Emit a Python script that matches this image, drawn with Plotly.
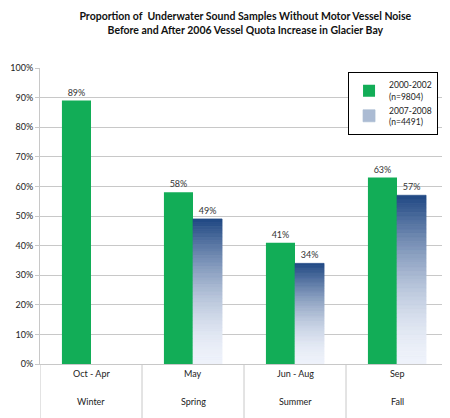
import plotly.graph_objects as go

seasons = ["Winter", "Spring", "Summer", "Fall"]
months = ["Oct - Apr", "May", "Jun - Aug", "Sep"]
before = [89, 58, 41, 63]          # 2000-2002 (n=9804)
after = [None, 49, 34, 57]         # 2007-2008 (n=4491)
y_ticks = [0, 10, 20, 30, 40, 50, 60, 70, 80, 90, 100]

font = "Lato, Liberation Sans, sans-serif"
grid = "#c8c8c8"

# gradient colours, bottom (light) -> top (dark navy)
c_low = (238, 242, 250)
c_high = (30, 70, 130)
n_slices = 40


def mix(t):
    t = t ** 1.7
    return "rgb(%d,%d,%d)" % tuple(round(c_low[k] + (c_high[k] - c_low[k]) * t) for k in range(3))


fig = go.Figure()
fig.add_trace(go.Bar(
    x=months, y=before, name="2000-2002<br>(n=9804)", offsetgroup="a",
    marker=dict(color="#12ad57", line=dict(width=0)),
    text=[f"{v}%" for v in before], textposition="outside",
    textfont=dict(size=9, color="#333"), cliponaxis=False, legendrank=1,
))

# blue bars drawn as stacked slices to get a vertical gradient
for i in range(n_slices):
    heights = [None if v is None else v / n_slices for v in after]
    bases = [None if v is None else v * i / n_slices for v in after]
    top = i == n_slices - 1
    col = mix((i + 0.5) / n_slices)
    fig.add_trace(go.Bar(
        x=months, y=heights, base=bases, offsetgroup="b",
        marker=dict(color=col, line=dict(width=0.7, color=col)),
        name="2007-2008<br>(n=4491)",
        showlegend=(i == n_slices // 2), legendrank=2,
        text=[("" if v is None else f"{v}%") for v in after] if top else None,
        textposition="outside" if top else "none",
        textfont=dict(size=9, color="#333"), cliponaxis=False,
        hoverinfo=None if top else "skip",
    ))

# two rows of category labels under the axis, with divider lines
for k in range(len(months)):
    fig.add_annotation(x=months[k], y=-0.057, xref="x", yref="paper", text=months[k],
                       showarrow=False, font=dict(size=9, color="#222"))
    fig.add_annotation(x=months[k], y=-0.152, xref="x", yref="paper", text=seasons[k],
                       showarrow=False, font=dict(size=9, color="#222"))
for k in range(len(months) + 1):
    fig.add_shape(type="line", xref="x", yref="paper", x0=k - 0.5, x1=k - 0.5,
                  y0=0, y1=-0.2, line=dict(color=grid, width=1))

# the page adds an 8px body margin, so the figure is 8px smaller than the window
fig.update_layout(
    width=442, height=410,
    barmode="group", bargap=0.43, bargroupgap=0,
    plot_bgcolor="white", paper_bgcolor="white",
    font=dict(family=font, size=9, color="#222"),
    margin=dict(l=27, r=2, t=60, b=54),
    title=dict(
        text="<b>Proportion of  Underwater Sound Samples Without Motor Vessel Noise<br>"
             "Before and After 2006 Vessel Quota Increase in Glacier Bay</b>",
        x=0.537, xanchor="center", y=0.97, yanchor="top",
        font=dict(family=font, size=10.5, color="#111"),
    ),
    legend=dict(
        x=0.755, y=0.986, xanchor="left", yanchor="top",
        bgcolor="white", bordercolor="black", borderwidth=1,
        font=dict(size=8.5), traceorder="normal", tracegroupgap=0,
        itemwidth=30,
    ),
    showlegend=True,
)
fig.update_yaxes(
    range=[0, 100], tickvals=y_ticks, ticktext=[f"{v}%" for v in y_ticks],
    showgrid=True, gridcolor=grid, gridwidth=1,
    showline=True, linecolor=grid, zeroline=False,
    ticks="outside", ticklen=4, tickcolor=grid, tickfont=dict(size=9),
)
fig.update_xaxes(
    range=[-0.5, 3.5], showline=True, linecolor=grid,
    showticklabels=False, ticks="",
)

fig.write_html("out.html")
